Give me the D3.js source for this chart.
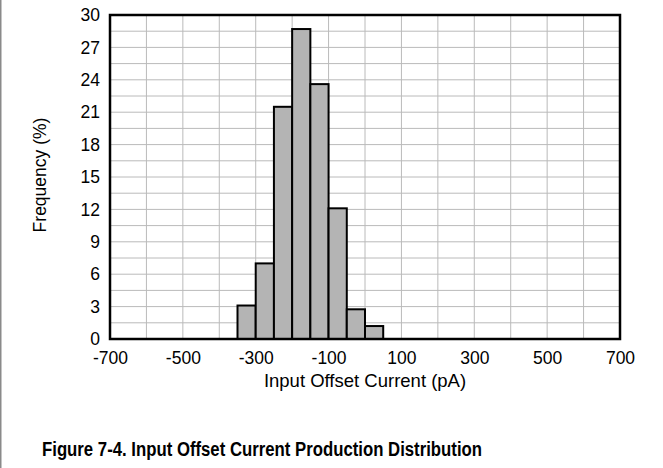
<!DOCTYPE html>
<html>
<head>
<meta charset="utf-8">
<script src="https://cdn.jsdelivr.net/npm/d3@7"></script>
<style>
  body { margin: 0; background: #fff; }
  svg { display: block; font-family: "Liberation Sans", Arial, sans-serif; }
</style>
</head>
<body>
<svg id="chart" width="663" height="468"></svg>
<script>
// histogram bins (pA) and frequency (%)
const binStarts = [-350, -300, -250, -200, -150, -100, -50, 0];
const binWidth = 50;
const freqs = [3.1, 7.0, 21.5, 28.7, 23.6, 12.1, 2.75, 1.2];
const xTicks = [-700, -500, -300, -100, 100, 300, 500, 700];
const yTicks = [0, 3, 6, 9, 12, 15, 18, 21, 24, 27, 30];

const margin = { top: 15, right: 43, bottom: 129, left: 110 };
const width = 663, height = 468;
const svg = d3.select("#chart");

// thin grey rule on the left page edge
svg.append("line")
  .attr("x1", 0.75).attr("x2", 0.75).attr("y1", 0).attr("y2", height)
  .attr("stroke", "#8a8a8a").attr("stroke-width", 1.5);

const x = d3.scaleLinear().domain([-700, 700]).range([margin.left, width - margin.right]);
const y = d3.scaleLinear().domain([0, 30]).range([height - margin.bottom, margin.top]);

// grid
svg.append("g")
  .selectAll("line")
  .data(d3.range(-600, 700, 100))
  .join("line")
  .attr("x1", d => x(d)).attr("x2", d => x(d))
  .attr("y1", y(0)).attr("y2", y(30))
  .attr("stroke", "#bababa").attr("stroke-width", 1);

svg.append("g")
  .selectAll("line")
  .data(d3.range(1.5, 30, 1.5))
  .join("line")
  .attr("x1", x(-700)).attr("x2", x(700))
  .attr("y1", d => y(d)).attr("y2", d => y(d))
  .attr("stroke", "#bababa").attr("stroke-width", 1);

// bars
svg.append("g")
  .selectAll("rect")
  .data(freqs)
  .join("rect")
  .attr("x", (d, i) => x(binStarts[i]))
  .attr("y", d => y(d))
  .attr("width", (d, i) => x(binStarts[i] + binWidth) - x(binStarts[i]))
  .attr("height", d => y(0) - y(d))
  .attr("fill", "#b4b4b4")
  .attr("stroke", "#000")
  .attr("stroke-width", 2);

// frame
svg.append("rect")
  .attr("x", x(-700)).attr("y", y(30))
  .attr("width", x(700) - x(-700)).attr("height", y(0) - y(30))
  .attr("fill", "none").attr("stroke", "#000").attr("stroke-width", 2.5);

// axes (labels only)
const xAxis = svg.append("g")
  .attr("transform", `translate(0,${y(0)})`)
  .call(d3.axisBottom(x).tickValues(xTicks).tickSize(0).tickPadding(13).tickFormat(d => String(d)));
xAxis.select(".domain").remove();
xAxis.attr("font-size", 17.5).attr("font-family", "Liberation Sans, Arial, sans-serif");
xAxis.selectAll("text").attr("fill", "#000");

const yAxis = svg.append("g")
  .attr("transform", `translate(${x(-700)},0)`)
  .call(d3.axisLeft(y).tickValues(yTicks).tickSize(0).tickPadding(10));
yAxis.select(".domain").remove();
yAxis.attr("font-size", 17.5).attr("font-family", "Liberation Sans, Arial, sans-serif");
yAxis.selectAll("text").attr("fill", "#000");

svg.append("text")
  .attr("x", (x(-700) + x(700)) / 2).attr("y", 387)
  .attr("text-anchor", "middle").attr("font-size", 18.5)
  .text("Input Offset Current (pA)");

svg.append("text")
  .attr("transform", "translate(46,175) rotate(-90)")
  .attr("text-anchor", "middle").attr("font-size", 17.5)
  .text("Frequency (%)");

svg.append("text")
  .attr("x", 262).attr("y", 456)
  .attr("text-anchor", "middle").attr("font-size", 19.5).attr("font-weight", "bold")
  .attr("font-family", "'Liberation Sans Narrow', 'Arial Narrow', 'Liberation Sans', sans-serif")
  .attr("textLength", 440).attr("lengthAdjust", "spacingAndGlyphs")
  .text("Figure 7-4. Input Offset Current Production Distribution");
</script>
</body>
</html>
